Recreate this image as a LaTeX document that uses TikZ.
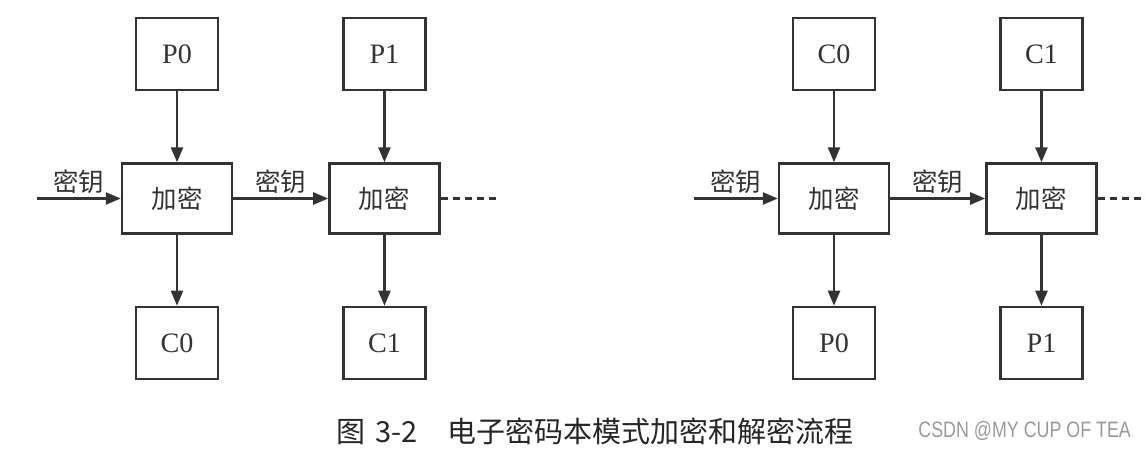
\documentclass[tikz,border=0pt]{standalone}
\usepackage{fontspec}
\setmainfont{Liberation Serif}
\newfontfamily\cjk{Noto Sans CJK SC}
\newfontfamily\wmfont[FakeStretch=0.8]{Liberation Sans}
\usetikzlibrary{positioning,arrows.meta}
\definecolor{cline}{HTML}{333333}
\definecolor{cmark}{HTML}{9A9A9A}
\tikzset{
  blk/.style={draw=cline, line width=1.4pt, minimum width=1.64cm, minimum height=1.44cm, inner sep=0pt, font=\fontsize{16}{18}\selectfont, text=cline},
  op/.style={draw=cline, line width=1.4pt, minimum width=2.2cm, minimum height=1.4cm, inner sep=0pt, font=\cjk\fontsize{14.5}{16}\selectfont, text=cline},
  sig/.style={-{Triangle[length=3mm,width=2.4mm]}, line width=1.4pt, draw=cline},
  lbl/.style={font=\cjk\fontsize{14.5}{16}\selectfont, text=cline, inner sep=2pt},
  more/.style={line width=1.4pt, draw=cline, dash pattern=on 0.14cm off 0.1cm},
}
\begin{document}
\begin{tikzpicture}[node distance=1.42cm and 1.9cm]
  \useasboundingbox (0,0) rectangle (22.92,-8.98);
  % encryption
  \node[op] (e0) at (3.54,-3.97) {加密};
  \node[op, right=of e0] (e1) {加密};
  \node[blk, above=of e0] (p0) {P0};
  \node[blk, above=of e1] (p1) {P1};
  \node[blk, below=of e0] (c0) {C0};
  \node[blk, below=of e1] (c1) {C1};
  \coordinate[left=1.68cm of e0] (k0);
  \coordinate[right=1.1cm of e1] (e1r);
  \draw[sig] (k0) -- node[lbl, above] {密钥} (e0);
  \draw[sig] (e0) -- node[lbl, above] {密钥} (e1);
  \draw[sig] (p0) -- (e0); \draw[sig] (p1) -- (e1);
  \draw[sig] (e0) -- (c0); \draw[sig] (e1) -- (c1);
  \draw[more] (e1) -- (e1r);
  % decryption
  \node[op] (d0) at (16.68,-3.97) {加密};
  \node[op, right=of d0] (d1) {加密};
  \node[blk, above=of d0] (dc0) {C0};
  \node[blk, above=of d1] (dc1) {C1};
  \node[blk, below=of d0] (dp0) {P0};
  \node[blk, below=of d1] (dp1) {P1};
  \coordinate[left=1.68cm of d0] (k1);
  \coordinate[right=1.1cm of d1] (d1r);
  \draw[sig] (k1) -- node[lbl, above] {密钥} (d0);
  \draw[sig] (d0) -- node[lbl, above] {密钥} (d1);
  \draw[sig] (dc0) -- (d0); \draw[sig] (dc1) -- (d1);
  \draw[sig] (d0) -- (dp0); \draw[sig] (d1) -- (dp1);
  \draw[more] (d1) -- (d1r);
  % caption
  \node[font=\cjk\fontsize{16.5}{18}\selectfont, text=black!85] (cap) at (11.9,-8.62) {图\hspace{0.2cm}3-2\hspace{0.6cm}电子密码本模式加密和解密流程};
  \node[anchor=west, font=\wmfont\fontsize{12.7}{14}\selectfont, text=cmark, inner sep=0pt] (mark) at (18.36,-8.62) {CSDN @MY CUP OF TEA};
\end{tikzpicture}
\end{document}
